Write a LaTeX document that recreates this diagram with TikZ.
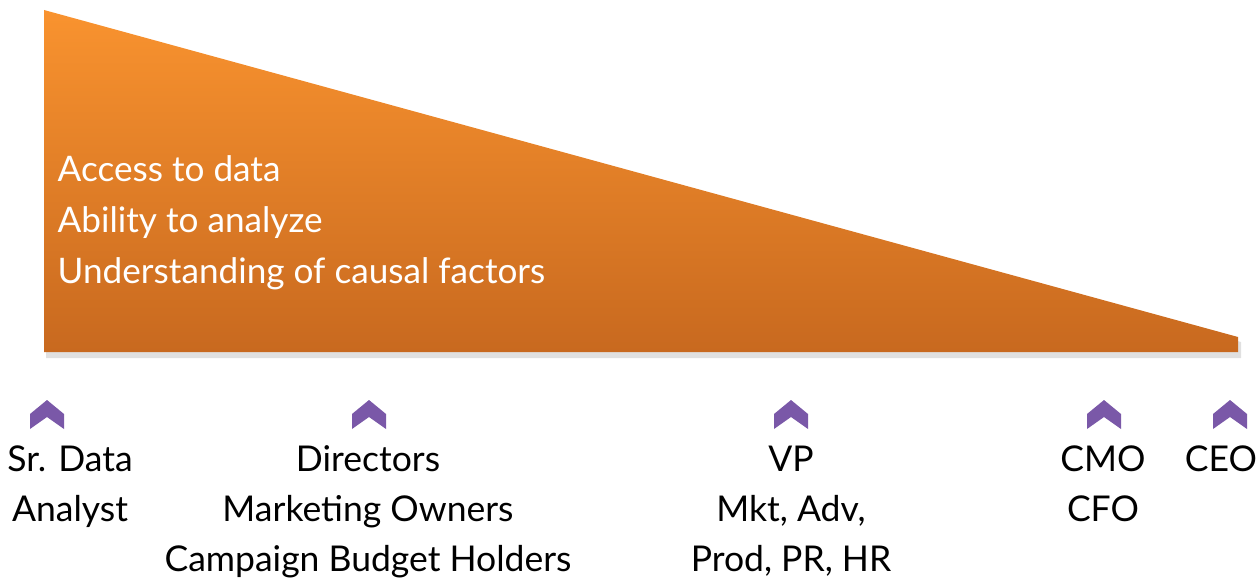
\documentclass[tikz,border=0pt]{standalone}
\usepackage{fontspec}
\setmainfont{Lato}
\usepackage{tikz}

\definecolor{wedgetop}{HTML}{F9932F}
\definecolor{wedgebot}{HTML}{C8691F}
\definecolor{chevron}{HTML}{7A58A8}

\tikzset{
  factor/.style={white,anchor=base west,inner sep=0pt,font=\fontsize{10}{13}\selectfont},
  role/.style={anchor=base,align=center,inner sep=0pt,font=\fontsize{10.1}{14.2}\selectfont}
}

\begin{document}
\begin{tikzpicture}[x=0.01cm,y=-0.01cm]
\useasboundingbox (0,0) rectangle (1258,582);
{
\fill[black,opacity=0.12] (46,16) -- (1241,342) -- (1241,358) -- (46,358) -- cycle;
\shade[top color=wedgetop,bottom color=wedgebot] (44,10) -- (1238,337) -- (1238,352) -- (44,352) -- cycle;
%
\node[factor] (access) at (57,182) {Access to data};
\node[factor] (ability) at (57,232) {Ability to analyze};
\node[factor] (causal) at (57,283) {Understanding of causal factors};
%
\foreach \x in {47,369,791,1104,1230}{
\fill[chevron] (\x-17,414) -- (\x,400) -- (\x+17,414) -- (\x+17,429) -- (\x,417) -- (\x-17,429) -- cycle;
}
% base = baseline of the last line
\node[role] (analyst) at (70,521) {Sr. Data\\Analyst};
\node[role] (directors) at (368,571) {Directors\\Marketing Owners\\Campaign Budget Holders};
\node[role] (vp) at (791,571) {VP\\Mkt, Adv,\\Prod, PR, HR};
\node[role] (cmo) at (1103,521) {CMO\\CFO};
\node[role] (ceo) at (1221,471) {CEO};
}
\end{tikzpicture}
\end{document}
